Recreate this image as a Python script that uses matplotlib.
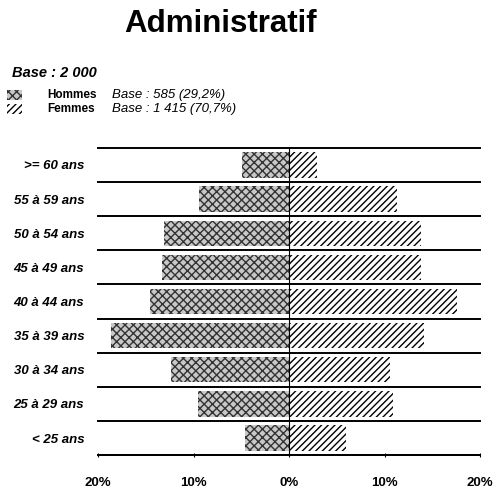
import matplotlib.pyplot as plt
from matplotlib.patches import Rectangle

plt.rcParams['font.family'] = ['Liberation Sans', 'DejaVu Sans']
plt.rcParams['hatch.linewidth'] = 1.0

tranches = ["< 25 ans", "25 à 29 ans", "30 à 34 ans", "35 à 39 ans", "40 à 44 ans",
            "45 à 49 ans", "50 à 54 ans", "55 à 59 ans", ">= 60 ans"]
hommes = [4.6, 9.5, 12.4, 18.7, 14.6, 13.3, 13.1, 9.4, 4.9]
femmes = [6.0, 10.9, 10.6, 14.1, 17.6, 13.8, 13.8, 11.3, 2.9]
ticks = [-20, -10, 0, 10, 20]
tick_labels = ["20%", "10%", "0%", "10%", "20%"]

fig = plt.figure(figsize=(4.98, 4.91), dpi=100)
ax = fig.add_axes([0.197, 0.073, 0.767, 0.626])

y = range(len(tranches))
ax.barh(y, [-v for v in hommes], height=0.74, facecolor="#c8c8c8",
        edgecolor="#333333", linewidth=0, hatch="xxxx")
ax.barh(y, femmes, height=0.74, facecolor="white",
        edgecolor="black", linewidth=0, hatch="/////")

# lignes de séparation entre les tranches
for k in range(len(tranches) + 1):
    ax.axhline(k - 0.5, color="black", lw=1.4, clip_on=False)
ax.axvline(0, color="black", lw=0.8)

ax.set_xlim(-20, 20)
ax.set_ylim(-0.5, len(tranches) - 0.5)
ax.set_xticks(ticks)
ax.set_xticklabels(tick_labels, fontsize=9.5, fontweight="bold")
ax.set_yticks(list(y))
ax.set_yticklabels(tranches, fontsize=9.5, fontweight="bold", style="italic")
ax.tick_params(axis="y", length=0, pad=10)
ax.tick_params(axis="x", length=3, direction="inout", pad=14)
for s in ["top", "right", "left"]:
    ax.spines[s].set_visible(False)
ax.spines["bottom"].set_linewidth(1.4)

fig.text(0.442, 0.952, "Administratif", fontsize=22.5, fontweight="bold",
         ha="center", va="center")

fig.text(0.024, 0.851, "Base : 2 000", fontsize=10.5, fontweight="bold",
         style="italic", va="center")
fig.patches.append(Rectangle((0.014, 0.797), 0.03, 0.02, transform=fig.transFigure,
                             facecolor="#c8c8c8", edgecolor="#333333", lw=0, hatch="xxxx"))
fig.patches.append(Rectangle((0.014, 0.768), 0.03, 0.02, transform=fig.transFigure,
                             facecolor="white", edgecolor="black", lw=0, hatch="/////"))
fig.text(0.094, 0.807, "Hommes", fontsize=8.5, fontweight="bold", va="center")
fig.text(0.225, 0.807, "Base : 585 (29,2%)", fontsize=9.5, style="italic", va="center")
fig.text(0.094, 0.778, "Femmes", fontsize=8.5, fontweight="bold", va="center")
fig.text(0.225, 0.778, "Base : 1 415 (70,7%)", fontsize=9.5, style="italic", va="center")

fig.savefig("out.png", dpi=100)
